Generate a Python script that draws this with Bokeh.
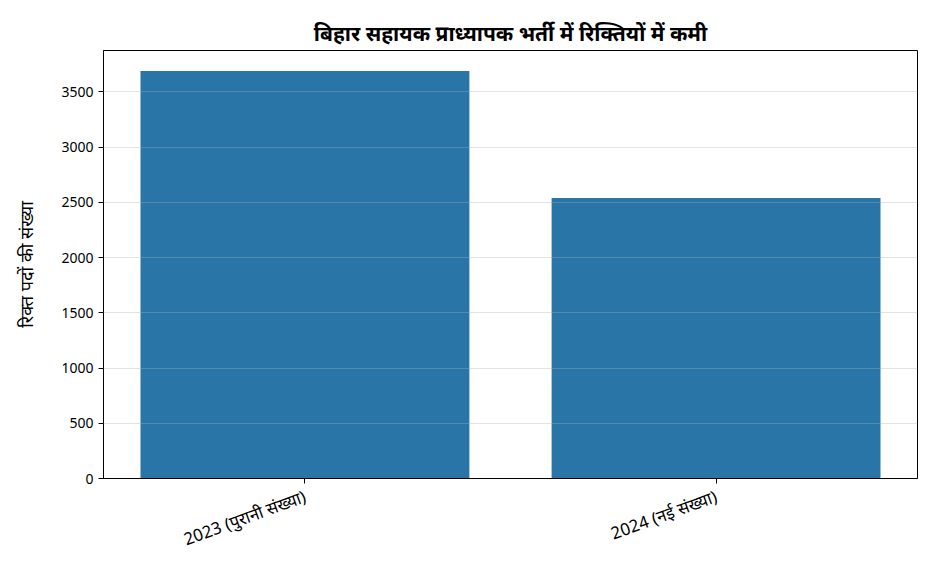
import math
from bokeh.plotting import figure
from bokeh.models import Range1d, FixedTicker
from bokeh.embed import file_html
from bokeh.resources import INLINE

years = ["2023 (पुरानी संख्या)", "2024 (नई संख्या)"]
vacancies = [3690, 2540]
y_ticks = [0, 500, 1000, 1500, 2000, 2500, 3000, 3500]

font = "Noto Sans"
xs = list(range(len(years)))

p = figure(
    width=920, height=564,
    title="बिहार सहायक प्राध्यापक भर्ती में रिक्तियों में कमी",
    x_range=Range1d(-0.49, len(years) - 1 + 0.49),
    y_range=Range1d(0, max(vacancies) * 1.05),
    toolbar_location=None, output_backend="svg",
    min_border_left=103, min_border_right=3, min_border_top=50, min_border_bottom=86,
)
p.vbar(x=xs, top=vacancies, width=0.8, color="#2975a8", line_color=None)

p.title.align = "center"
p.title.text_font = font
p.title.text_font_size = "21px"
p.title.text_font_style = "bold"
p.title.text_color = "black"
p.title.offset = 0
p.title.standoff = 7

p.xaxis.ticker = FixedTicker(ticks=xs)
p.xaxis.major_label_overrides = {i: t for i, t in enumerate(years)}
p.xaxis.major_label_orientation = math.radians(20)
p.xaxis.major_label_standoff = 12
p.yaxis.ticker = FixedTicker(ticks=y_ticks)
p.yaxis.axis_label = "रिक्त पदों की संख्या"

for ax in (p.xaxis, p.yaxis):
    ax.axis_line_color = "black"
    ax.major_tick_line_color = "black"
    ax.major_tick_in = 0
    ax.major_tick_out = 5
    ax.minor_tick_line_color = None
    ax.major_label_text_font = font
    ax.major_label_text_color = "black"
    ax.axis_label_text_font = font
    ax.axis_label_text_color = "black"
    ax.axis_label_text_font_style = "normal"
    ax.axis_label_text_font_size = "18px"
p.yaxis.major_label_text_font_size = "14px"
p.xaxis.major_label_text_font_size = "17px"
p.yaxis.axis_label_standoff = 20

p.xgrid.grid_line_color = None
p.ygrid.grid_line_color = "#b0b0b0"
p.ygrid.grid_line_alpha = 0.35
p.ygrid.level = "guide"

p.outline_line_color = "black"
p.outline_line_alpha = 1
p.background_fill_color = "white"

open("out.html", "w").write(file_html(p, INLINE))
